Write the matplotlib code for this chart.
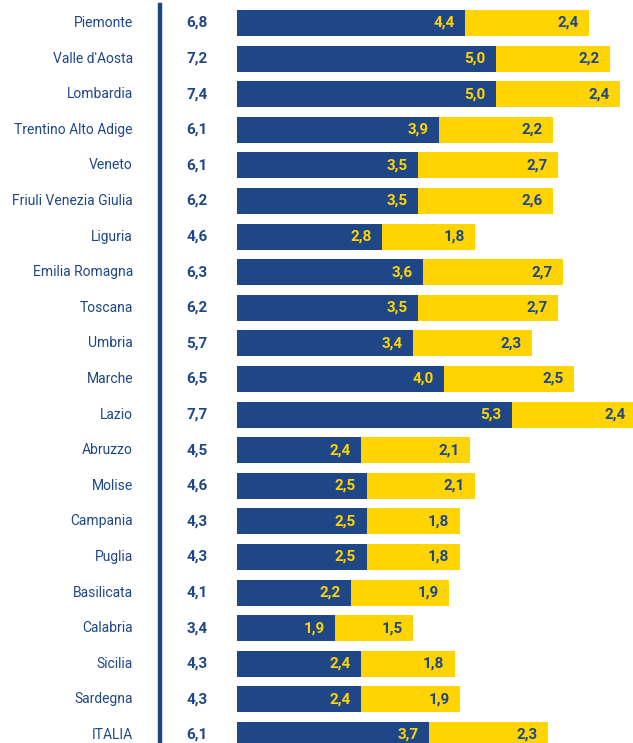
import matplotlib.pyplot as plt
from matplotlib.transforms import blended_transform_factory

NAVY = "#1f4788"
YELLOW = "#ffd400"

regions = [
    "Piemonte", "Valle d'Aosta", "Lombardia", "Trentino Alto Adige", "Veneto",
    "Friuli Venezia Giulia", "Liguria", "Emilia Romagna", "Toscana", "Umbria",
    "Marche", "Lazio", "Abruzzo", "Molise", "Campania", "Puglia", "Basilicata",
    "Calabria", "Sicilia", "Sardegna", "ITALIA",
]
totals = [6.8, 7.2, 7.4, 6.1, 6.1, 6.2, 4.6, 6.3, 6.2, 5.7, 6.5, 7.7,
          4.5, 4.6, 4.3, 4.3, 4.1, 3.4, 4.3, 4.3, 6.1]
part_a = [4.4, 5.0, 5.0, 3.9, 3.5, 3.5, 2.8, 3.6, 3.5, 3.4, 4.0, 5.3,
          2.4, 2.5, 2.5, 2.5, 2.2, 1.9, 2.4, 2.4, 3.7]
part_b = [2.4, 2.2, 2.4, 2.2, 2.7, 2.6, 1.8, 2.7, 2.7, 2.3, 2.5, 2.4,
          2.1, 2.1, 1.8, 1.8, 1.9, 1.5, 1.8, 1.9, 2.3]

plt.rcParams["font.family"] = ["Roboto", "DejaVu Sans"]


def fmt(v):
    return f"{v:.1f}".replace(".", ",")


W, H = 633, 743
fig = plt.figure(figsize=(W / 100, H / 100), dpi=100)
x0 = 237
pitch = 35.6
first = 23
ax = fig.add_axes([x0 / W, 0, (W - x0) / W, 1])
ax.set_xlim(0, (W - x0) / 51.8)
ax.set_ylim((H - first) / pitch, -first / pitch)
ax.axis("off")

rows = list(range(len(regions)))
h = 26 / pitch
ax.barh(rows, part_a, height=h, color=NAVY, linewidth=0)
ax.barh(rows, part_b, left=part_a, height=h, color=YELLOW, linewidth=0)

off = 0.2
for i, (a, b) in enumerate(zip(part_a, part_b)):
    ax.text(a - off, i, fmt(a), ha="right", va="center", color=YELLOW,
            fontsize=11, fontweight="bold")
    ax.text(a + b - off, i, fmt(b), ha="right", va="center", color=NAVY,
            fontsize=11, fontweight="bold", clip_on=True)

tr = blended_transform_factory(fig.transFigure, ax.transData)
for i, (name, tot) in enumerate(zip(regions, totals)):
    fig.text(133 / W, i, name, transform=tr, ha="right", va="center",
             color=NAVY, fontsize=10)
    fig.text(197 / W, i, fmt(tot), transform=tr, ha="center", va="center",
             color=NAVY, fontsize=11, fontweight="bold")

fig.add_artist(plt.Line2D([160 / W, 160 / W], [0, 1 - 5 / H],
                          transform=fig.transFigure, color=NAVY, linewidth=3.2))

fig.savefig("out.png", dpi=100, facecolor="white")
